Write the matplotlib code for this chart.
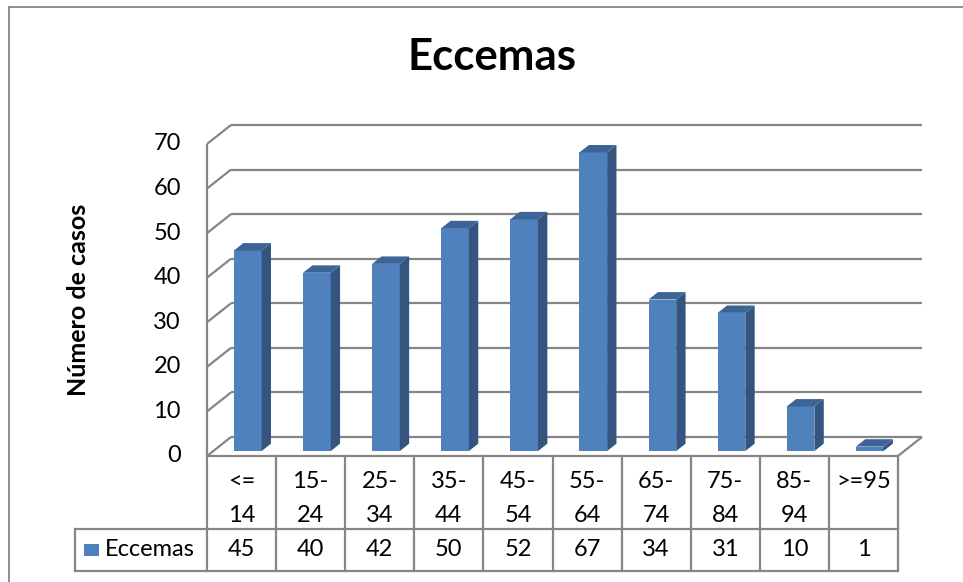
import matplotlib
matplotlib.use('Agg')
import matplotlib.pyplot as plt
from matplotlib.patches import Polygon, Rectangle
from matplotlib.lines import Line2D
import numpy as np

# ---------------- data ----------------
categories = ['<=\n14', '15-\n24', '25-\n34', '35-\n44', '45-\n54',
              '55-\n64', '65-\n74', '75-\n84', '85-\n94', '>=95']
values = [45, 40, 42, 50, 52, 67, 34, 31, 10, 1]
yticks = [0, 10, 20, 30, 40, 50, 60, 70]
series_name = 'Eccemas'
title = 'Eccemas'
ylabel = 'Número de casos'

# ---------------- style ----------------
plt.rcParams['font.family'] = ['Lato', 'DejaVu Sans']
GRID = '#868686'
FRONT = '#4F81BD'
SIDE = '#34557F'
TOP = '#3C6497'
FS = 17
W, H = 963, 582

fig = plt.figure(figsize=(W / 100, H / 100), dpi=100)
fig.patch.set_facecolor('white')

# axes = front plane of the 3-D box (pixel layout)
L, R, B, T = 207, 898, 456, 144
ax = fig.add_axes([L / W, 1 - B / H, (R - L) / W, (B - T) / H])
n = len(values)
ax.set_xlim(0, n)
ax.set_ylim(0, yticks[-1])
ax.axis('off')

# pixels per data unit from the axes scales
p0 = ax.transData.transform((0, 0))
p1 = ax.transData.transform((1, 1))
ppx, ppy = p1 - p0
DX = 24 / ppx      # full depth of box, in data units
DY = 19 / ppy

kw = dict(color=GRID, lw=1.6, clip_on=False, solid_capstyle='butt')

# back wall gridlines and side wall diagonals
for t in yticks:
    ax.plot([DX, n + DX], [t + DY, t + DY], zorder=1, **kw)
    ax.plot([0, DX], [t, t + DY], zorder=1, **kw)
ax.plot([0, 0], [0, yticks[-1]], zorder=1, **kw)
ax.plot([n, n + DX], [0, DY], zorder=1, **kw)

# bars (pseudo 3-D)
fd, bd = 0.26, 0.65
fx, fy = fd * DX, fd * DY
bx, by = bd * DX, bd * DY
xs = np.arange(n) + 0.5
bw = 0.4
ax.bar(xs + fx, values, width=bw, bottom=fy, color=FRONT, zorder=3,
       clip_on=False, linewidth=0)
for x, v in zip(xs, values):
    x0, x1 = x - bw / 2, x + bw / 2
    side = Polygon([(x1 + fx, fy), (x1 + fx, v + fy), (x1 + bx, v + by), (x1 + bx, by)],
                   closed=True, facecolor=SIDE, edgecolor='none', zorder=3, clip_on=False)
    top = Polygon([(x0 + fx, v + fy), (x1 + fx, v + fy), (x1 + bx, v + by), (x0 + bx, v + by)],
                  closed=True, facecolor=TOP, edgecolor='none', zorder=3, clip_on=False)
    ax.add_patch(side)
    ax.add_patch(top)

# y tick labels
for t in yticks:
    ax.text((181 - L) / ppx, t, str(t), ha='right', va='center',
            fontsize=FS, color='black', clip_on=False)

# ---------------- data table ----------------
tr = ax.get_xaxis_transform()
h1 = -(529 - B) / (B - T)   # bottom of header row (axes fraction)
h2 = -(571 - B) / (B - T)   # bottom of value row
legL = (75 - L) / ppx
tkw = dict(color=GRID, lw=1.6, clip_on=False, transform=tr, solid_capstyle='projecting')
ax.plot([0, n], [0, 0], **tkw)
ax.plot([legL, n], [h1, h1], **tkw)
ax.plot([legL, n], [h2, h2], **tkw)
for i in range(n + 1):
    ax.plot([i, i], [0, h2], **tkw)
ax.plot([legL, legL], [h1, h2], **tkw)

line1 = -(482 - B) / (B - T)
line2 = -(515 - B) / (B - T)
vrow = -(550 - B) / (B - T)
for x, c, v in zip(xs, categories, values):
    parts = c.split('\n')
    ax.text(x, line1, parts[0], ha='center', va='center', fontsize=FS,
            transform=tr, clip_on=False)
    if len(parts) > 1:
        ax.text(x, line2, parts[1], ha='center', va='center', fontsize=FS,
                transform=tr, clip_on=False)
    ax.text(x, vrow, str(v), ha='center', va='center', fontsize=FS,
            transform=tr, clip_on=False)

# legend key in table
fig.add_artist(Rectangle((84 / W, 1 - 556 / H), 15 / W, 12 / H,
                         transform=fig.transFigure, facecolor=FRONT, edgecolor='none'))
fig.text(105 / W, 1 - 550 / H, series_name, ha='left', va='center', fontsize=FS)

# title and axis label
fig.text(492 / W, 1 - 57 / H, title, ha='center', va='center',
         fontsize=31.5, fontweight='bold')
fig.text(78 / W, 1 - 300 / H, ylabel, ha='center', va='center', rotation=90,
         fontsize=18, fontweight='bold')

# outer chart border
fig.add_artist(Line2D([9 / W, 9 / W], [0, 1 - 7 / H], transform=fig.transFigure,
                      color=GRID, lw=1.3))
fig.add_artist(Line2D([9 / W, 1], [1 - 7 / H, 1 - 7 / H], transform=fig.transFigure,
                      color=GRID, lw=1.3))

fig.savefig('out.png', dpi=100, facecolor='white')
